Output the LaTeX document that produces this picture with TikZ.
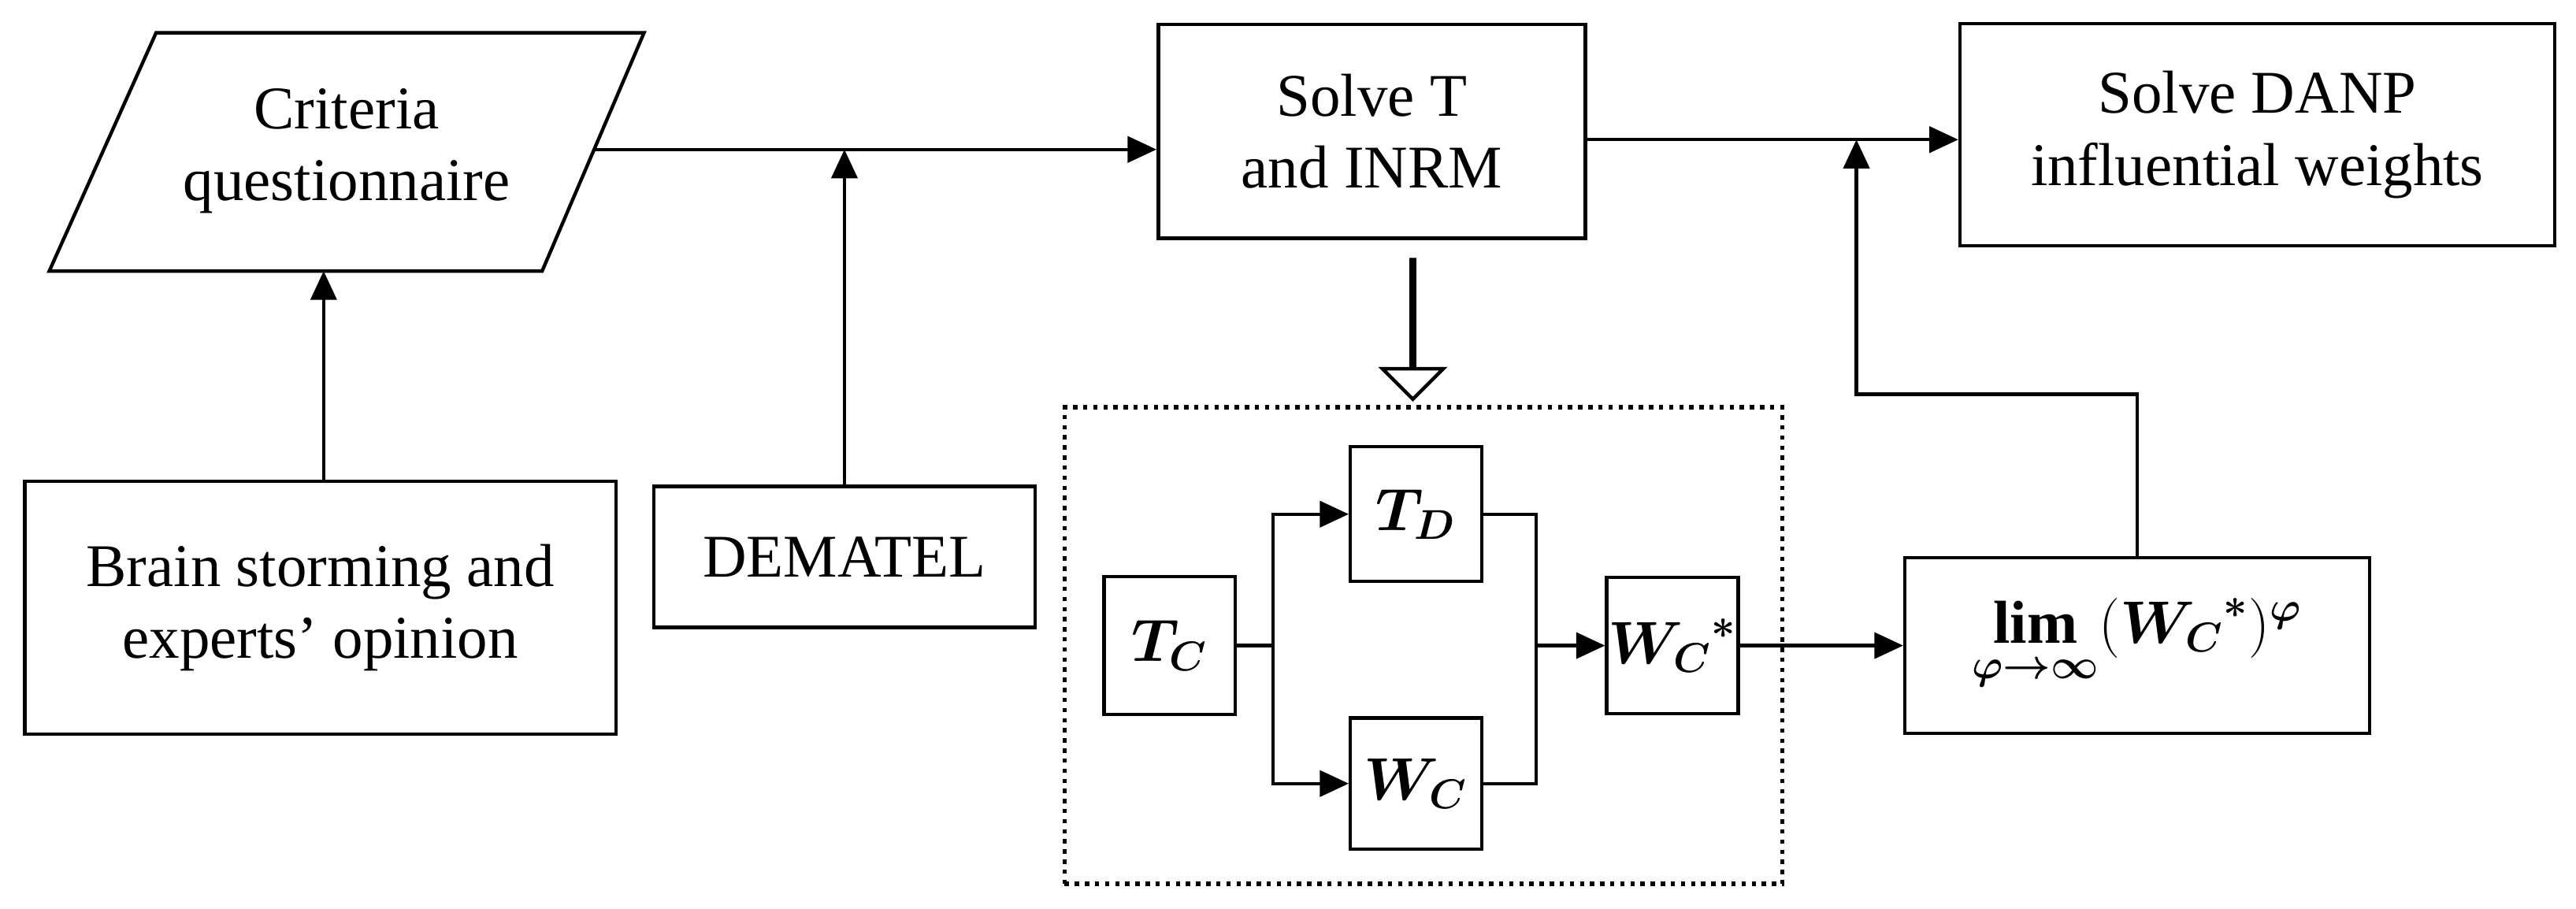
\documentclass[tikz,border=0pt]{standalone}
\usepackage{amsmath}
\usepackage{bm}
\usepackage{fontspec}
\setmainfont{Liberation Serif}
\usetikzlibrary{arrows.meta,positioning,shapes.geometric,shapes.arrows}

\begin{document}
\begin{tikzpicture}[x=0.02cm,y=-0.02cm,
    font=\fontsize{21}{25}\selectfont,
    box/.style={draw, line width=1.2pt, align=center, inner sep=0pt},
    arrow/.style={-{Triangle[length=10pt,width=9pt]}, line width=1.2pt},
    line/.style={line width=1.2pt}
  ]
  \useasboundingbox (0,0) rectangle (1568,553);

  % Inputs
  \node[align=center] (quest) at (211,92) {Criteria\\questionnaire};
  \draw[line] (30,165) coordinate (qbl) -- (95,20) -- (392,20) -- (330,165) -- cycle;
  \coordinate (qbot) at (197,165);
  \coordinate (qright) at (362,91);
  \node[box, minimum width=7.2cm, minimum height=3.08cm] (brain) at (195,370) {Brain storming and\\experts' opinion};
  \node[box, minimum width=4.64cm, minimum height=1.72cm] (dematel) at (514,339) {DEMATEL};

  % Results
  \node[box, minimum width=5.2cm, minimum height=2.6cm] (solvet) at (835,80) {Solve T\\and INRM};
  \node[box, minimum width=7.24cm, minimum height=2.7cm] (danp) at (1374,82) {Solve DANP\\influential weights};

  % Supermatrix
  \node[draw, line width=1.5pt, dotted, minimum width=8.74cm, minimum height=5.8cm] (frame) at (866.5,393) {};
  \node[box, minimum width=1.6cm, minimum height=1.68cm] (tc) at (712,393) {$\bm{T_C}$};
  \node[box, minimum width=1.6cm, minimum height=1.64cm] (td) at (862,313) {$\bm{T_D}$};
  \node[box, minimum width=1.6cm, minimum height=1.6cm] (wc) at (862,477) {$\bm{W_C}$};
  \node[box, minimum width=1.6cm, minimum height=1.66cm] (wcs) at (1018,393) {${\bm{W_C}}^{\bm{*}}$};
  \node[box, minimum width=5.66cm, minimum height=2.14cm] (lim) at (1301,393) {$\bm{\lim\limits_{\varphi\to\infty}}({\bm{W_C}}^{\bm{*}})^{\bm{\varphi}}$};
  \node[draw, line width=1.2pt, single arrow, shape border rotate=270, minimum height=1.7cm, minimum width=0.5cm, single arrow head extend=0.35cm, inner sep=0pt] (hollow) at (860,200) {};

  \coordinate (jq) at (514,91);
  \coordinate (jd) at (1130,85);
  \coordinate (split) at (775,393);
  \coordinate (merge) at (935,393);

  % Connections
  \draw[arrow] (brain.north -| qbot) -- (qbot);
  \draw[arrow] (qright) -- (solvet.west |- qright);
  \draw[arrow] (dematel) -- (jq);
  \draw[arrow] (solvet.east |- jd) -- (danp.west |- jd);
  \draw[line] (tc.east) -- (split);
  \draw[arrow] (split) |- (td.west);
  \draw[arrow] (split) |- (wc.west);
  \draw[line] (td.east) -| (merge) |- (wc.east);
  \draw[arrow] (merge) -- (wcs.west);
  \draw[arrow] (wcs.east) -- (lim.west);
  \draw[arrow] (lim.north) |- (1130,240) -- (jd);
\end{tikzpicture}
\end{document}
